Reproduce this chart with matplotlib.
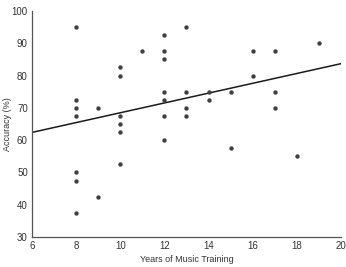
import numpy as np
import matplotlib
matplotlib.use('Agg')
import matplotlib.pyplot as plt

plt.rcParams['font.family'] = ['Liberation Sans', 'DejaVu Sans']

# years of training and accuracy (%) per participant
years = [8, 8, 8, 8, 8, 8, 8,
         9, 9,
         10, 10, 10, 10, 10, 10,
         11,
         12, 12, 12, 12, 12, 12, 12,
         13, 13, 13, 13,
         14, 14,
         15, 15,
         16, 16,
         17, 17, 17,
         18,
         19]
accuracy = [95, 72.5, 70, 67.5, 50, 47.5, 37.5,
            70, 42.5,
            82.5, 80, 67.5, 65, 62.5, 52.5,
            87.5,
            92.5, 87.5, 85, 75, 72.5, 67.5, 60,
            95, 75, 70, 67.5,
            75, 72.5,
            75, 57.5,
            87.5, 80,
            87.5, 75, 70,
            55,
            90]

x_ticks = [6, 8, 10, 12, 14, 16, 18, 20]
y_ticks = [30, 40, 50, 60, 70, 80, 90, 100]

fig = plt.figure(figsize=(3.46, 2.67), dpi=100)
ax = fig.add_axes([0.0925, 0.112, 0.893, 0.847])

ax.scatter(years, accuracy, s=10, color='#404040', zorder=3, linewidths=0)

# least squares fit line
slope, intercept = np.polyfit(years, accuracy, 1)
xs = np.array([6, 20])
ax.plot(xs, slope * xs + intercept, color='#1a1a1a', lw=1.1)

ax.set_xlim(6, 20)
ax.set_ylim(30, 100)
ax.set_xticks(x_ticks)
ax.set_yticks(y_ticks)
ax.tick_params(length=0, labelsize=7, colors='#333333', pad=3)
ax.set_xlabel('Years of Music Training', fontsize=6.5, color='#333333', labelpad=3)
ax.set_ylabel('Accuracy (%)', fontsize=6.5, color='#333333')
ax.yaxis.set_label_coords(-0.066, 0.5)

for side in ['top', 'right']:
    ax.spines[side].set_visible(False)
for side in ['left', 'bottom']:
    ax.spines[side].set_color('#555555')
    ax.spines[side].set_linewidth(0.9)

fig.savefig('out.png', dpi=100)
